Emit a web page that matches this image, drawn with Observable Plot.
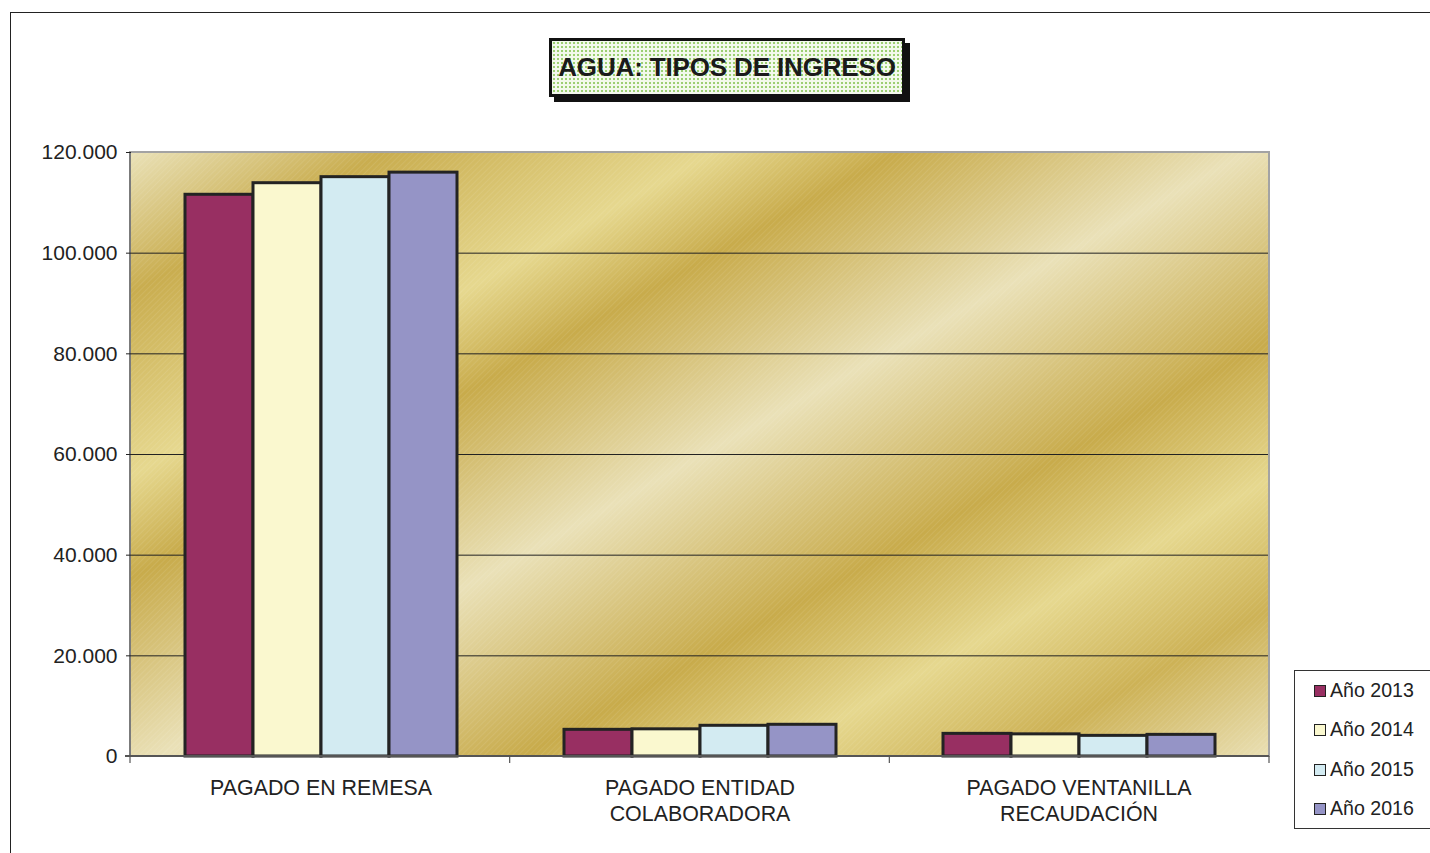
<!DOCTYPE html>
<html><head><meta charset="utf-8">
<script src="https://cdn.jsdelivr.net/npm/d3@7"></script>
<script src="https://cdn.jsdelivr.net/npm/@observablehq/plot@0.6"></script>
<style>
html,body{margin:0;padding:0;background:#fff;}
body{width:1430px;height:853px;overflow:hidden;position:relative;font-family:"Liberation Sans",Arial,sans-serif;color:#222;}
#frame{position:absolute;left:10px;top:12px;width:1440px;height:860px;border-left:1px solid #222;border-top:1px solid #222;pointer-events:none;}
#head{height:130px;position:relative;}
#title{position:absolute;left:549px;top:38px;width:350px;height:53px;border:3px solid #111;box-shadow:5px 5px 0 #111;
  background-color:#f3f9ec;background-image:radial-gradient(circle,#9ccf72 0.9px,transparent 1.4px);background-size:4px 4px;
  font-weight:bold;font-size:26px;line-height:53px;text-align:center;color:#1a1a1a;letter-spacing:-0.15px;white-space:nowrap;}
#legend{position:absolute;left:1294px;top:670px;width:150px;height:157px;border:1px solid #333;background:#fff;}
.item{position:absolute;left:19px;height:24px;font-size:19.6px;line-height:24px;white-space:nowrap;}
.sw{display:inline-block;width:10px;height:10px;border:1.5px solid #222;margin-right:4px;vertical-align:0px;}
</style></head>
<body>
<div id="head"><div id="title">AGUA: TIPOS DE INGRESO</div></div>
<div id="chart"></div>
<div id="legend"></div>
<div id="frame"></div>
<script>
const categories = ["PAGADO EN REMESA", "PAGADO ENTIDAD COLABORADORA", "PAGADO VENTANILLA RECAUDACIÓN"];
const categoryLabels = ["PAGADO EN REMESA", "PAGADO ENTIDAD\nCOLABORADORA", "PAGADO VENTANILLA\nRECAUDACIÓN"];
const years = ["Año 2013", "Año 2014", "Año 2015", "Año 2016"];
const values2013 = [111600, 5300, 4500];
const values2014 = [113900, 5400, 4400];
const values2015 = [115100, 6100, 4100];
const values2016 = [116000, 6300, 4300];
const yearColors = ["#982F62", "#FAF8CF", "#D3EBF2", "#9594C6"];
const yTicks = [0, 20000, 40000, 60000, 80000, 100000, 120000];

(function () {
const series = [values2013, values2014, values2015, values2016];
const rows = categories.flatMap((c, i) => years.map((y, j) => ({category: c, year: y, value: series[j][i]})));

const fmt = d3.formatLocale({decimal: ",", thousands: ".", grouping: [3], currency: ["", "€"]}).format(",.0f");

const W = 1430, H = 723, ML = 130, MR = 161, MT = 22, MB = 97;

const chart = Plot.plot({
  width: W, height: H,
  marginLeft: ML, marginRight: MR, marginTop: MT, marginBottom: MB,
  style: {fontFamily: "Liberation Sans, Arial, sans-serif", fontSize: "21px", color: "#222", background: "transparent", overflow: "visible"},
  fx: {domain: categories, padding: 0, axis: null},
  x: {domain: years, paddingInner: 0, paddingOuter: 0.754, axis: null},
  y: {domain: [0, 120000], ticks: yTicks, tickFormat: fmt, tickSize: 5, tickPadding: 9, label: null},
  color: {domain: years, range: yearColors},
  marks: [
    Plot.ruleY(yTicks.filter(v => v > 0 && v < 120000), {stroke: "#222", strokeWidth: 1}),
    Plot.barY(rows, {fx: "category", x: "year", y: "value", fill: "year", stroke: "#232323", strokeWidth: 3}),
    Plot.text(categories, {fx: d => d, text: (d, i) => categoryLabels[i], frameAnchor: "bottom", lineAnchor: "top", dy: 20, fontSize: 21.4, lineHeight: 1.22, fill: "#222"})
  ]
});
document.getElementById("chart").appendChild(chart);

const svgEl = chart.tagName.toLowerCase() === "svg" ? chart : chart.querySelector("svg");
const svg = d3.select(svgEl);
const bgG = svg.insert("g", ":first-child");
const defs = svg.insert("defs", ":first-child");
const off = 130;
const grad = defs.append("linearGradient").attr("id", "goldGrad").attr("gradientUnits", "userSpaceOnUse")
  .attr("x1", 95).attr("y1", 171 - off).attr("x2", 619).attr("y2", 1115 - off);
[[0, "#EAE2B9"], [0.115, "#C9AD4F"], [0.263, "#E6D88F"], [0.346, "#C8AB4B"], [0.503, "#EAE1B8"],
 [0.666, "#C8AB4B"], [0.778, "#E6D88F"], [0.883, "#CDB256"], [1, "#E9DFB3"]]
  .forEach(([o, c]) => grad.append("stop").attr("offset", o).attr("stop-color", c));
const pat = defs.append("pattern").attr("id", "hatch").attr("patternUnits", "userSpaceOnUse")
  .attr("width", 4).attr("height", 4).attr("patternTransform", "rotate(45)");
pat.append("line").attr("x1", 0).attr("y1", 0).attr("x2", 0).attr("y2", 4).attr("stroke", "#fff").attr("stroke-opacity", 0.16).attr("stroke-width", 1);
const pw = W - ML - MR, ph = H - MT - MB;
bgG.append("rect").attr("x", ML).attr("y", MT).attr("width", pw).attr("height", ph).attr("fill", "url(#goldGrad)");
bgG.append("rect").attr("x", ML).attr("y", MT).attr("width", pw).attr("height", ph).attr("fill", "url(#hatch)");
bgG.append("rect").attr("x", ML).attr("y", MT).attr("width", pw).attr("height", ph).attr("fill", "none").attr("stroke", "#a3a3a3").attr("stroke-width", 2);
bgG.append("line").attr("x1", ML).attr("x2", ML).attr("y1", MT).attr("y2", H - MB).attr("stroke", "#6e6e6e").attr("stroke-width", 1.5);

const overG = svg.append("g");
overG.append("line").attr("x1", ML - 5).attr("x2", W - MR).attr("y1", H - MB).attr("y2", H - MB).attr("stroke", "#555").attr("stroke-width", 2);
const band = d3.scaleBand().domain(categories).range([ML, W - MR]);
const bounds = categories.map(c => band(c)).concat([W - MR]);
bounds.forEach(x => overG.append("line").attr("x1", x).attr("x2", x).attr("y1", H - MB).attr("y2", H - MB + 7).attr("stroke", "#555").attr("stroke-width", 1.2));

const leg = document.getElementById("legend");
years.forEach((y, i) => {
  const it = document.createElement("div");
  it.className = "item";
  it.style.top = (7 + i * 39.3) + "px";
  it.innerHTML = `<span class="sw" style="background:${yearColors[i]}"></span>${y}`;
  leg.appendChild(it);
});
})();
</script>
</body></html>
